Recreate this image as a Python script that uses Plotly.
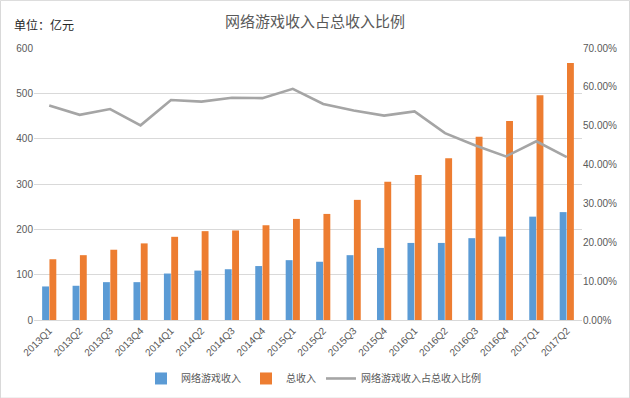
import plotly.graph_objects as go

quarters = ["2013Q1", "2013Q2", "2013Q3", "2013Q4", "2014Q1", "2014Q2", "2014Q3", "2014Q4",
            "2015Q1", "2015Q2", "2015Q3", "2015Q4", "2016Q1", "2016Q2", "2016Q3", "2016Q4",
            "2017Q1", "2017Q2"]
game_revenue = [74, 75.5, 83.5, 83.5, 102.5, 109, 112, 119, 132, 128.5, 143, 159, 170, 170,
                180.5, 184, 228, 238]
total_revenue = [134, 143, 155, 169, 183.5, 196, 197.5, 209, 223, 234, 265, 305, 320, 357,
                 404, 439, 496, 567]
game_share = [0.552, 0.528, 0.543, 0.501, 0.566, 0.562, 0.572, 0.571, 0.595, 0.556, 0.539,
              0.526, 0.537, 0.481, 0.449, 0.421, 0.460, 0.419]

left_ticks = [0, 100, 200, 300, 400, 500, 600]
right_ticks = [0, 0.1, 0.2, 0.3, 0.4, 0.5, 0.6, 0.7]

font_main = "Liberation Sans, Noto Sans CJK SC, sans-serif"
font_cjk = "Noto Sans CJK SC, sans-serif"
grey_text = "#595959"

fig = go.Figure()
fig.add_trace(go.Bar(x=quarters, y=game_revenue, name="网络游戏收入",
                     marker=dict(color="#5B9BD5", line=dict(width=0))))
fig.add_trace(go.Bar(x=quarters, y=total_revenue, name="总收入",
                     marker=dict(color="#ED7D31", line=dict(width=0))))
fig.add_trace(go.Scatter(x=quarters, y=game_share, name="网络游戏收入占总收入比例",
                         mode="lines", yaxis="y2",
                         line=dict(color="#A5A5A5", width=2.6)))

fig.update_layout(
    width=630, height=398,
    margin=dict(l=34, r=48, t=48, b=78, autoexpand=False),
    paper_bgcolor="white", plot_bgcolor="white",
    barmode="group", bargap=0.52, bargroupgap=0.06,
    showlegend=True,
    legend=dict(orientation="h", x=0.51, xanchor="center", y=-0.215, yanchor="middle",
                font=dict(family=font_cjk, size=10, color=grey_text),
                traceorder="normal", itemwidth=30),
    xaxis=dict(type="category", tickangle=-45, showgrid=False,
               tickfont=dict(family=font_main, size=10, color=grey_text),
               showline=True, linecolor="#D9D9D9", linewidth=1, ticks=""),
    yaxis=dict(range=[0, 600], tickvals=left_ticks, showgrid=True, gridcolor="#D9D9D9",
               gridwidth=1, zeroline=False, showline=False,
               tickfont=dict(family=font_main, size=10, color=grey_text)),
    yaxis2=dict(range=[0, 0.7], tickvals=right_ticks, tickformat=".2%", overlaying="y",
                side="right", showgrid=False, zeroline=False, showline=False,
                tickfont=dict(family=font_main, size=10, color=grey_text)),
    title=dict(text="网络游戏收入占总收入比例", x=0.5, xanchor="center", y=0.945,
               yanchor="middle", font=dict(family=font_cjk, size=15, color=grey_text)),
    annotations=[dict(text="单位：亿元", xref="paper", yref="paper", x=-0.04, y=1.085,
                      xanchor="left", yanchor="middle", showarrow=False,
                      font=dict(family=font_cjk, size=12, color="#262626"))],
    shapes=[dict(type="rect", xref="paper", yref="paper", x0=-0.0611, x1=1.0867,
                 y0=-0.2873, y1=1.175, line=dict(color="#D9D9D9", width=1),
                 fillcolor="rgba(0,0,0,0)", layer="below")],
)

fig.write_html("out.html", config={"displayModeBar": False},
               post_script="document.body.style.margin='0';document.body.style.padding='0';")
